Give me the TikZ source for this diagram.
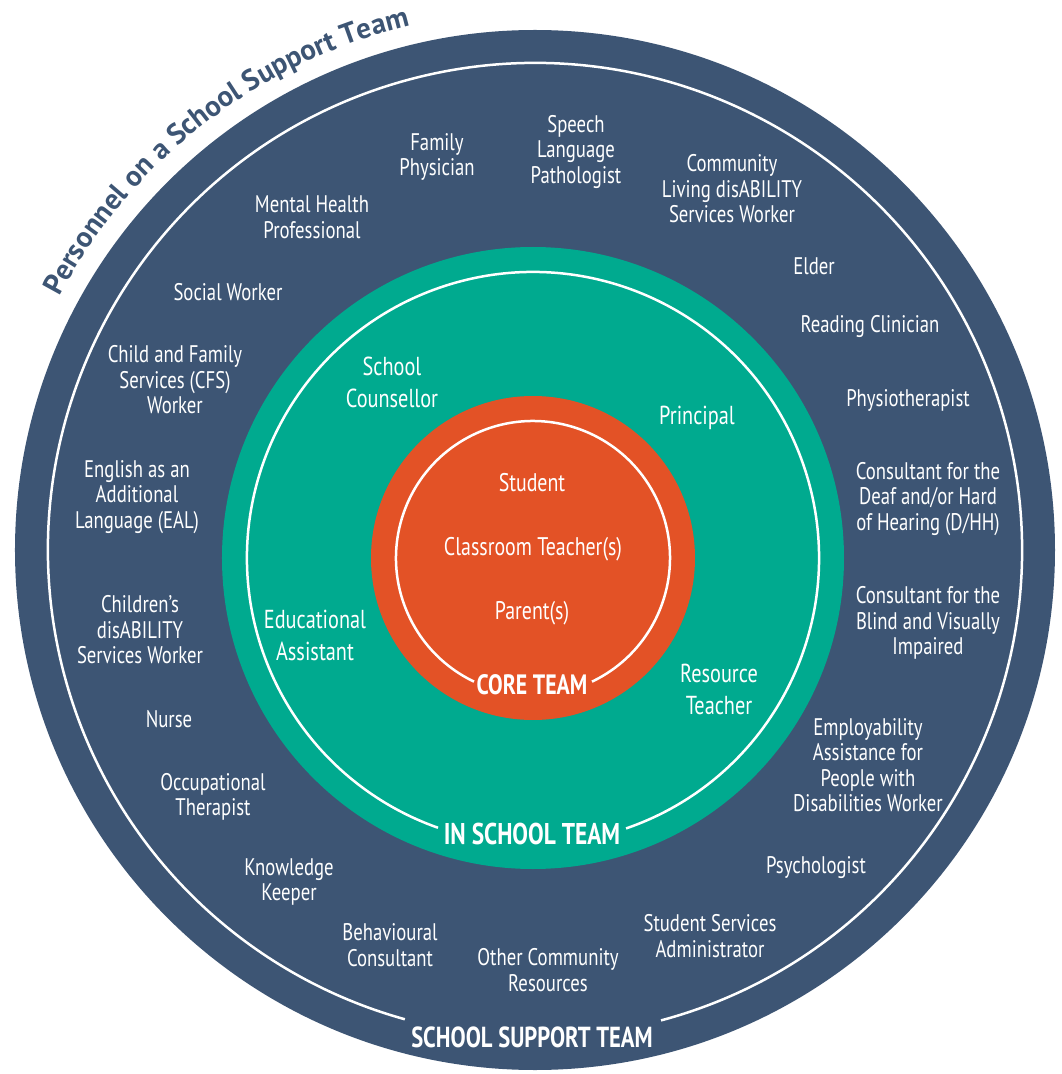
\documentclass[tikz,border=0pt]{standalone}
\usepackage{fontspec}
\setmainfont{PT Sans}[FakeStretch=0.78]
\newfontfamily\titlefont{PT Sans}
\usepackage{tikz}
\usetikzlibrary{calc,decorations.text}
\definecolor{supportblue}{HTML}{3D5574}
\definecolor{schoolteal}{HTML}{00AA8F}
\definecolor{coreorange}{HTML}{E35226}
\tikzset{
  ring/.style = {draw=white, line width=2.5pt},
  supp_n/.style = {align=center, text=white, inner sep=0pt, font=\fontsize{24}{25.5}\selectfont},
  school_n/.style = {align=center, text=white, inner sep=0pt, font=\fontsize{26}{32}\selectfont},
  core_n/.style = {text=white, inner sep=0pt, font=\fontsize{25.5}{26}\selectfont},
  team_n/.style = {text=white, inner sep=0pt, font=\bfseries\fontsize{29}{30}\selectfont}
}
\begin{document}
\begin{tikzpicture}[x=1pt,y=1pt]
    \useasboundingbox (-535,-524) rectangle (527,550);
    % discs
    \fill[supportblue] (0,0) circle[radius=520];
    \fill[schoolteal] (-2,-8) circle[radius=311];
    \fill[coreorange] (-2,-8) circle[radius=162];
    % white rings, open at the bottom for the team names
    \draw[ring] (-75:487) arc[start angle=-75, end angle=254.5, radius=487];
    \draw[ring] ($(-2,-8)+(-71:286)$) arc[start angle=-71, end angle=250.6, radius=286];
    \draw[ring] ($(-2,-8)+(-64.5:137)$) arc[start angle=-64.5, end angle=244.5, radius=137];
    % title on the rim
    \path[decorate, decoration={text along path, text color=supportblue,
        text={|\titlefont\bfseries\fontsize{29}{29}\selectfont|Personnel on a School Support Team},
        text align=left}] (152:539) arc[start angle=152, end angle=88, radius=539];
    % core team
    \node (student) [core_n] at (-3,67) {Student};
    \node (teacher) [core_n] at (-2,1) {Classroom Teacher(s)};
    \node (parent) [core_n] at (-3,-63) {Parent(s)};
    \node (core) [team_n, font=\bfseries\fontsize{28}{30}\selectfont] at (-3,-135) {CORE TEAM};
    % in school team
    \node (counsellor) [school_n] at (-143,168) {School\\Counsellor};
    \node (principal) [school_n] at (162,132) {Principal};
    \node (assistant) [school_n] at (-220,-85) {Educational\\Assistant};
    \node (resource) [school_n] at (184,-139) {Resource\\Teacher};
    \node (inschool) [team_n, font=\bfseries\fontsize{30}{30}\selectfont] at (-3,-284) {IN SCHOOL TEAM};
    % school support team
    \node (physician) [supp_n] at (-98,393) {Family\\Physician};
    \node (speech) [supp_n] at (41,398) {Speech\\Language\\Pathologist};
    \node (community) [supp_n] at (197,361) {Community\\Living disABILITY\\Services Worker};
    \node (mental) [supp_n] at (-223,333) {Mental Health\\Professional};
    \node (elder) [supp_n] at (279,284) {Elder};
    \node (social) [supp_n] at (-307,258) {Social Worker};
    \node (reading) [supp_n] at (335,223) {Reading Clinician};
    \node (cfs) [supp_n] at (-360,170) {Child and Family\\Services (CFS)\\Worker};
    \node (physio) [supp_n] at (373,150) {Physiotherapist};
    \node (eal) [supp_n] at (-398,53) {English as an\\Additional\\Language (EAL)};
    \node (deaf) [supp_n] at (393,51) {Consultant for the\\Deaf and/or Hard\\of Hearing (D/HH)};
    \node (children) [supp_n] at (-395,-80) {Children’s\\disABILITY\\Services Worker};
    \node (blind) [supp_n] at (393,-73) {Consultant for the\\Blind and Visually\\Impaired};
    \node (nurse) [supp_n] at (-366,-169) {Nurse};
    \node (employ) [supp_n] at (333,-215) {Employability\\Assistance for\\People with\\Disabilities Worker};
    \node (ot) [supp_n] at (-322,-247) {Occupational\\Therapist};
    \node (psych) [supp_n] at (281,-318) {Psychologist};
    \node (keeper) [supp_n] at (-246,-332) {Knowledge\\Keeper};
    \node (behaviour) [supp_n] at (-145,-395) {Behavioural\\Consultant};
    \node (admin) [supp_n] at (175,-386) {Student Services\\Administrator};
    \node (other) [supp_n] at (13,-420) {Other Community\\Resources};
    \node (support) [team_n] at (-3,-487) {SCHOOL SUPPORT TEAM};
\end{tikzpicture}
\end{document}
